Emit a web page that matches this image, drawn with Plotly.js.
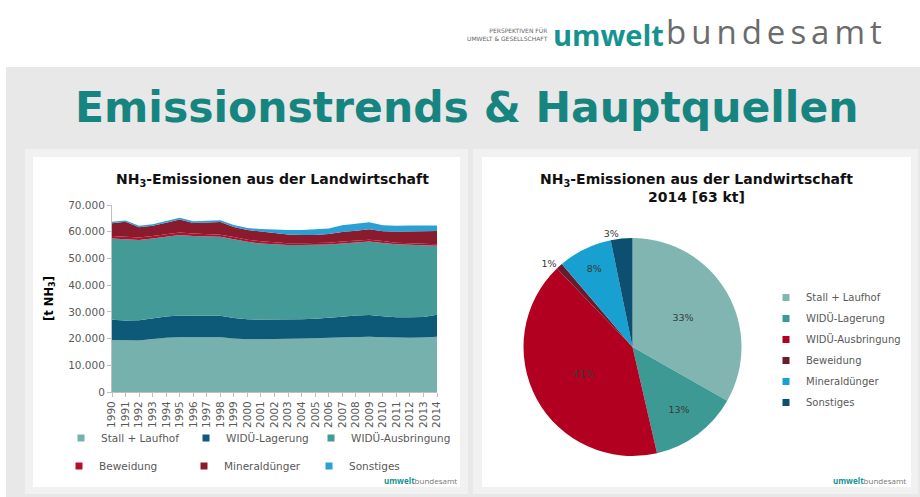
<!DOCTYPE html>
<html><head><meta charset="utf-8">
<script src="https://cdn.plot.ly/plotly-3.0.1.min.js"></script>
<style>html,body{margin:0;padding:0;background:#fff}#chart{width:920px;height:497px}</style>
</head><body><div id="chart"></div>
<script>
// ---- data ----
const years = ['1990','1991','1992','1993','1994','1995','1996','1997','1998','1999','2000','2001','2002',
               '2003','2004','2005','2006','2007','2008','2009','2010','2011','2012','2013','2014'];
const categories = ['Stall + Laufhof','WIDÜ-Lagerung','WIDÜ-Ausbringung','Beweidung','Mineraldünger','Sonstiges'];
// emissions in t NH3
const stall       = [19500,19300,19300,19800,20300,20500,20500,20500,20500,20000,19700,19700,19700,19900,20000,20100,20300,20500,20600,20700,20500,20300,20300,20400,20700];
const lagerung    = [7500,7500,7600,7800,8000,8100,8100,8000,8000,7700,7500,7400,7400,7300,7200,7300,7400,7700,8000,8100,7900,7700,7700,7700,8200];
const ausbringung = [30500,30400,30000,29900,29800,30200,29800,29700,29600,29500,29000,28500,28100,27800,27800,27600,27500,27400,27400,27500,27400,27300,27100,26900,25800];
const beweidung   = [900,900,900,900,900,900,900,800,800,800,800,800,800,700,700,700,700,700,700,700,700,600,600,600,600];
const mineral     = [4800,5600,3900,3800,4400,4900,4000,4500,4700,3800,3600,3700,3500,3300,3100,3100,3200,3600,3700,3900,3700,4100,4400,4700,5000];
const sonstiges   = [500,500,500,600,600,600,600,600,700,700,800,900,1200,1600,1800,2000,2100,2500,2600,2600,2200,2200,2200,2100,2000];
const series = [stall, lagerung, ausbringung, beweidung, mineral, sonstiges];
const pieYear = '2014';

// ---- styles ----
const areaColors = ['#76b1ae','#0c5a78','#449a97','#b3102f','#8a1b2c','#2aa0d4'];
const pieColors  = ['#80b5b2','#3d9994','#b20021','#6a1b2b','#17a0d0','#0c4f70'];
const W = 920, H = 497;
const X = px => px / W, Y = py => 1 - py / H;

const traces = [];
series.forEach((s, i) => {
  traces.push({type:'scatter', x: years, y: s, stackgroup:'one', mode:'lines',
    line:{width:0}, fillcolor: areaColors[i], name: categories[i], showlegend:false, hoverinfo:'skip'});
});
series.forEach((s, i) => {
  traces.push({type:'scatter', x:[null], y:[null], mode:'markers', name: categories[i],
    marker:{symbol:'square', size:7, color: areaColors[i]}, legend: i < 3 ? 'legend' : 'legend3',
    legendwidth: (i % 3 === 2) ? 115 : 80,
    showlegend:true, hoverinfo:'skip'});
});
const pieIdx = years.indexOf(pieYear);
traces.push({type:'pie', labels: categories, values: series.map(s => s[pieIdx]),
  sort:false, direction:'clockwise', rotation:0, showlegend:false,
  marker:{colors: pieColors, line:{width:0}},
  texttemplate:'%{percent:.0%}',
  textposition:['inside','inside','inside','outside','inside','outside'],
  insidetextorientation:'horizontal',
  textfont:{size:9.5, color:'#3a3a3a', family:'DejaVu Sans, sans-serif'},
  domain:{x:[X(523.5), X(741.5)], y:[Y(456), Y(238)]}, hoverinfo:'skip'});
categories.forEach((c, i) => {
  traces.push({type:'scatter', x:[null], y:[null], mode:'markers', name: c, legendgroup:'p'+i,
    marker:{symbol:'square', size:7, color: pieColors[i]}, legend:'legend2', showlegend:true, hoverinfo:'skip'});
});

const fontFam = 'DejaVu Sans, Verdana, sans-serif';
const layout = {
  width: W, height: H, margin:{l:0,r:0,t:0,b:0},
  paper_bgcolor:'#ffffff', plot_bgcolor:'rgba(0,0,0,0)',
  separators: ',.',
  font:{family: fontFam, color:'#595959', size:10.5},
  xaxis:{domain:[X(112), X(437)], anchor:'y', type:'category', range:[0, 24],
    tickangle:-90, tickfont:{size:10.5, color:'#595959'}, ticks:'outside', ticklen:4, tickcolor:'#bfbfbf',
    showline:true, linecolor:'#bfbfbf', showgrid:false, zeroline:false, fixedrange:true},
  yaxis:{domain:[Y(392), Y(205)], anchor:'x', range:[0, 70000], dtick:10000, tickformat:',d',
    tickfont:{size:10.5, color:'#595959'}, ticks:'outside', ticklen:4, tickcolor:'#bfbfbf',
    showline:true, linecolor:'#bfbfbf', showgrid:true, gridcolor:'#d9d9d9', zeroline:false, fixedrange:true,
    title:{text:'[t NH<sub>3</sub>]', font:{size:11.5, color:'#000', weight:'bold'}, standoff:12}},
  legend:{orientation:'h', x:X(61), y:Y(438), xanchor:'left', yanchor:'middle', entrywidth:80, entrywidthmode:'pixels',
    font:{size:10.5, color:'#595959'}, bgcolor:'rgba(0,0,0,0)', traceorder:'normal'},
  legend3:{orientation:'h', x:X(59), y:Y(466), xanchor:'left', yanchor:'middle', entrywidth:80, entrywidthmode:'pixels',
    font:{size:10.5, color:'#595959'}, bgcolor:'rgba(0,0,0,0)', traceorder:'normal'},
  legend2:{orientation:'v', x:X(766), y:Y(283), xanchor:'left', yanchor:'top',
    font:{size:10, color:'#595959'}, bgcolor:'rgba(0,0,0,0)', traceorder:'grouped', tracegroupgap:2},
  shapes:[
    {type:'rect', xref:'paper', yref:'paper', layer:'below', x0:X(6), x1:X(920), y0:Y(497), y1:Y(67), fillcolor:'#e8e8e8', line:{width:0}},
    {type:'rect', xref:'paper', yref:'paper', layer:'below', x0:X(25), x1:X(468), y0:Y(494), y1:Y(149), fillcolor:'#f1f1f1', line:{width:0}},
    {type:'rect', xref:'paper', yref:'paper', layer:'below', x0:X(473), x1:X(918), y0:Y(494), y1:Y(149), fillcolor:'#f1f1f1', line:{width:0}},
    {type:'rect', xref:'paper', yref:'paper', layer:'below', x0:X(33), x1:X(460), y0:Y(487), y1:Y(157), fillcolor:'#ffffff', line:{width:0}},
    {type:'rect', xref:'paper', yref:'paper', layer:'below', x0:X(482), x1:X(911), y0:Y(487), y1:Y(157), fillcolor:'#ffffff', line:{width:0}}
  ],
  annotations:[
    {text:'Emissionstrends &amp; Hauptquellen', xref:'paper', yref:'paper', x:X(467), y:Y(108), xanchor:'center', yanchor:'middle',
      showarrow:false, font:{family:fontFam, size:42.5, color:'#17857f', weight:'bold'}},
    {text:'PERSPEKTIVEN FÜR<br>UMWELT &amp; GESELLSCHAFT', xref:'paper', yref:'paper', x:X(550), y:Y(34), xanchor:'right', yanchor:'middle',
      align:'right', showarrow:false, font:{family:'DejaVu Sans, sans-serif', size:6, color:'#666'}},
    {text:'umwelt', xref:'paper', yref:'paper', x:X(666), y:Y(49), xanchor:'right', yanchor:'bottom', yshift:-7,
      showarrow:false, font:{family:'Open Sans, sans-serif', size:29, color:'#16938f', weight:'bold'}},
    {text:'<span style="letter-spacing:5px">bundesamt</span>', xref:'paper', yref:'paper', x:X(664), y:Y(49), xanchor:'left', yanchor:'bottom', yshift:-7,
      showarrow:false, font:{family:'Open Sans, sans-serif', size:33, color:'#6b6b6b'}},
    {text:'NH<sub>3</sub>-Emissionen aus der Landwirtschaft', xref:'paper', yref:'paper', x:X(272), y:Y(180), xanchor:'center', yanchor:'middle',
      showarrow:false, font:{family:fontFam, size:14, color:'#111', weight:'bold'}},
    {text:'NH<sub>3</sub>-Emissionen aus der Landwirtschaft<br>' + pieYear + ' [63 kt]', xref:'paper', yref:'paper', x:X(696), y:Y(188), xanchor:'center', yanchor:'middle',
      showarrow:false, font:{family:fontFam, size:14, color:'#111', weight:'bold'}},
    {text:'<span style="color:#16938f"><b>umwelt</b></span>bundesamt', xref:'paper', yref:'paper', x:X(459), y:Y(480), xanchor:'right', yanchor:'middle',
      showarrow:false, font:{family:'Open Sans, sans-serif', size:8, color:'#777'}},
    {text:'<span style="color:#16938f"><b>umwelt</b></span>bundesamt', xref:'paper', yref:'paper', x:X(908), y:Y(480), xanchor:'right', yanchor:'middle',
      showarrow:false, font:{family:'Open Sans, sans-serif', size:8, color:'#777'}}
  ]
};
Plotly.newPlot('chart', traces, layout, {displayModeBar:false, staticPlot:true});
</script></body></html>
